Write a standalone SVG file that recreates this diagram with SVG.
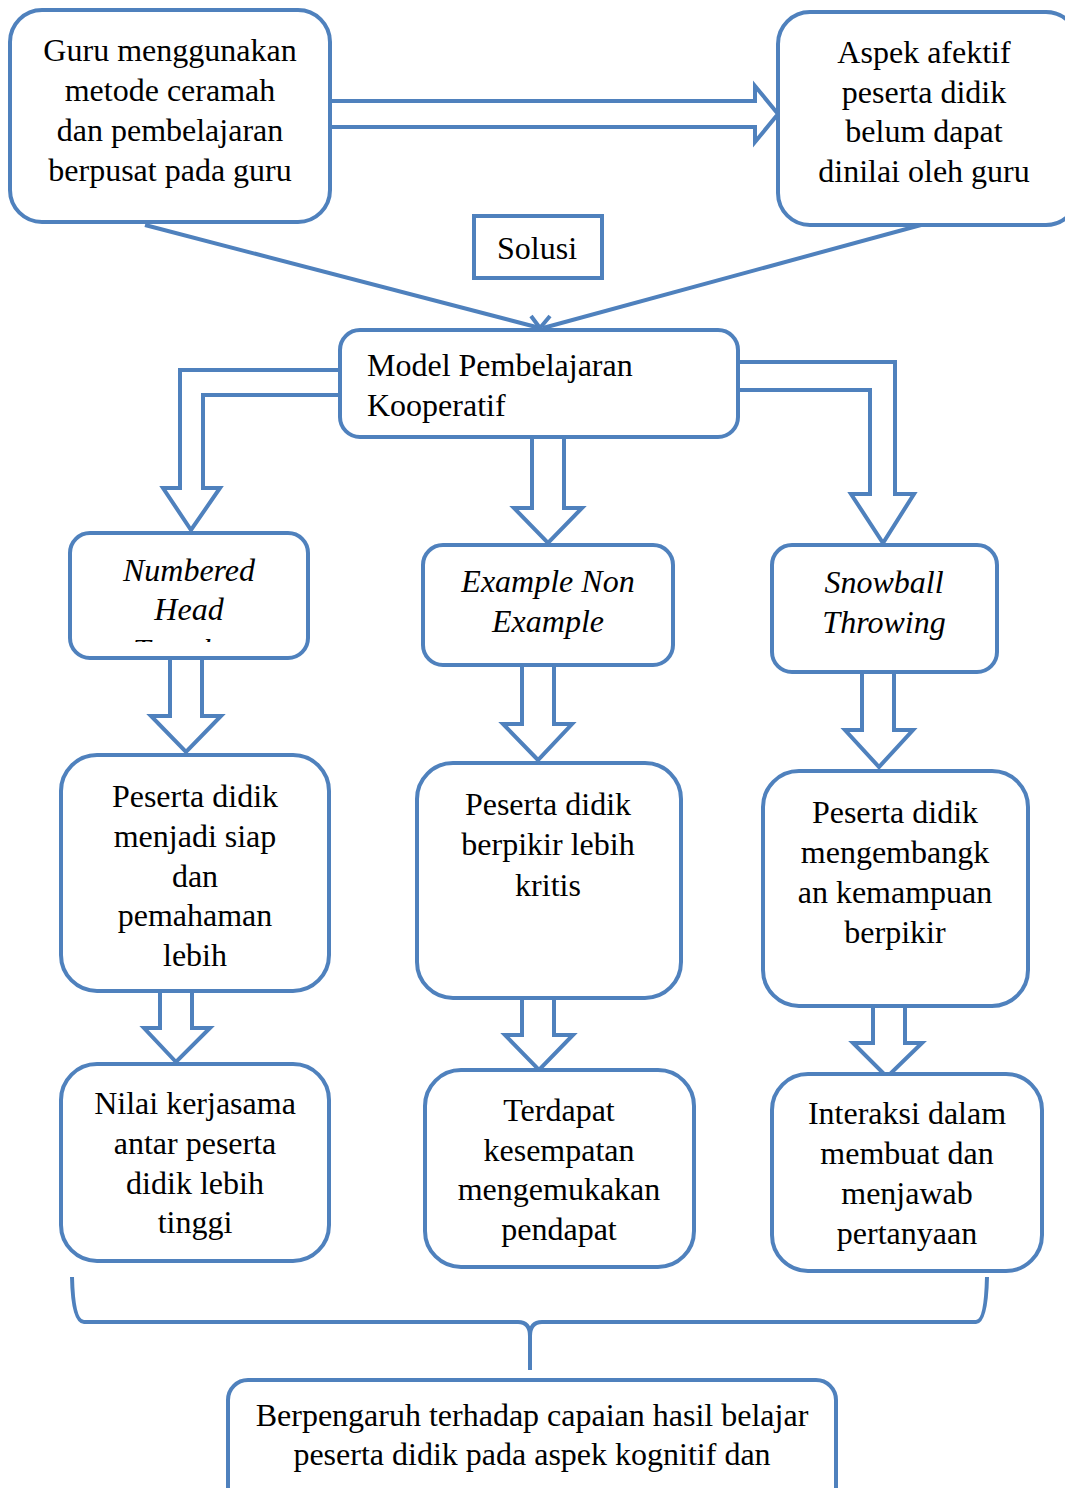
<svg xmlns="http://www.w3.org/2000/svg" width="1065" height="1488" viewBox="0 0 1065 1488">
<defs>
<style>
.box{fill:#fff;stroke:#4f81bd;stroke-width:4}
.ln{fill:none;stroke:#4f81bd;stroke-width:4;stroke-linejoin:miter}
.t{font-family:"Liberation Serif","Times New Roman",serif;font-size:32px;fill:#000;text-anchor:middle}
.l{text-anchor:start}
.i{font-style:italic}
</style>
<clipPath id="nhClip"><rect x="70" y="533" width="238" height="109"/></clipPath>
</defs>
<rect width="1065" height="1488" fill="#fff"/>

<g id="connectors">
  <path class="ln" d="M330,101 L755,101 L755,86 L778,114 L755,142 L755,127 L330,127"/>
  <path class="ln" d="M145,225 L540,328"/>
  <path class="ln" d="M932,222 L543,328"/>
  <path class="ln" d="M531,316 L540,328 L550,316"/>
  <path class="ln" d="M340,370 L180,370 L180,488 L163,488 L191,530 L220,488 L203,488 L203,395 L340,395"/>
  <path class="ln" d="M532,437 L532,508 L514,508 L548,543 L582,508 L564,508 L564,437"/>
  <path class="ln" d="M738,362 L895,362 L895,494 L914,494 L883,543 L851,494 L870,494 L870,390 L738,390"/>
  <path class="ln" d="M170,658 L170,716 L151,716 L186,752 L221,716 L202,716 L202,658"/>
  <path class="ln" d="M522,665 L522,724 L503,724 L538,760 L572,724 L554,724 L554,665"/>
  <path class="ln" d="M862,672 L862,730 L845,730 L879,767 L913,730 L894,730 L894,672"/>
  <path class="ln" d="M160,991 L160,1028 L144,1028 L176,1062 L210,1028 L192,1028 L192,991"/>
  <path class="ln" d="M522,998 L522,1035 L505,1035 L539,1070 L573,1035 L554,1035 L554,998"/>
  <path class="ln" d="M873,1006 L873,1043 L853,1043 L887,1077 L922,1043 L905,1043 L905,1006"/>
  <path class="ln" d="M72,1277 Q73,1322 84,1322 L518,1322 Q530,1322 530,1336 L530,1370"/>
  <path class="ln" d="M530,1336 Q530,1322 542,1322 L976,1322 Q986,1322 987,1277"/>
</g>

<g id="n-guru">
  <rect class="box" x="10" y="10" width="320" height="212" rx="32"/>
  <text class="t" x="170" y="61">Guru menggunakan</text>
  <text class="t" x="170" y="101">metode ceramah</text>
  <text class="t" x="170" y="141">dan pembelajaran</text>
  <text class="t" x="170" y="181">berpusat pada guru</text>
</g>

<g id="n-aspek">
  <rect class="box" x="778" y="12" width="300" height="213" rx="32"/>
  <text class="t" x="924" y="63">Aspek afektif</text>
  <text class="t" x="924" y="103">peserta didik</text>
  <text class="t" x="924" y="142">belum dapat</text>
  <text class="t" x="924" y="182">dinilai oleh guru</text>
</g>

<g id="n-solusi">
  <rect class="box" x="474" y="216" width="128" height="62"/>
  <text class="t" x="537" y="259">Solusi</text>
</g>

<g id="n-model">
  <rect class="box" x="340" y="330" width="398" height="107" rx="20"/>
  <text class="t l" x="367" y="376">Model Pembelajaran</text>
  <text class="t l" x="367" y="416">Kooperatif</text>
</g>

<g id="n-nht">
  <rect class="box" x="70" y="533" width="238" height="125" rx="20"/>
  <text class="t i" x="189" y="581">Numbered</text>
  <text class="t i" x="189" y="620">Head</text>
  <text class="t i" x="189" y="661" clip-path="url(#nhClip)">Together</text>
</g>

<g id="n-ene">
  <rect class="box" x="423" y="545" width="250" height="120" rx="20"/>
  <text class="t i" x="548" y="592">Example Non</text>
  <text class="t i" x="548" y="632">Example</text>
</g>

<g id="n-snow">
  <rect class="box" x="772" y="545" width="225" height="127" rx="20"/>
  <text class="t i" x="884" y="593">Snowball</text>
  <text class="t i" x="884" y="633">Throwing</text>
</g>

<g id="n-siap">
  <rect class="box" x="61" y="755" width="268" height="236" rx="36"/>
  <text class="t" x="195" y="807">Peserta didik</text>
  <text class="t" x="195" y="847">menjadi siap</text>
  <text class="t" x="195" y="887">dan</text>
  <text class="t" x="195" y="926">pemahaman</text>
  <text class="t" x="195" y="966">lebih</text>
</g>

<g id="n-kritis">
  <rect class="box" x="417" y="763" width="264" height="235" rx="36"/>
  <text class="t" x="548" y="815">Peserta didik</text>
  <text class="t" x="548" y="855">berpikir lebih</text>
  <text class="t" x="548" y="896">kritis</text>
</g>

<g id="n-kembang">
  <rect class="box" x="763" y="771" width="265" height="235" rx="36"/>
  <text class="t" x="895" y="823">Peserta didik</text>
  <text class="t" x="895" y="863">mengembangk</text>
  <text class="t" x="895" y="903">an kemampuan</text>
  <text class="t" x="895" y="943">berpikir</text>
</g>

<g id="n-kerjasama">
  <rect class="box" x="61" y="1064" width="268" height="197" rx="36"/>
  <text class="t" x="195" y="1114">Nilai kerjasama</text>
  <text class="t" x="195" y="1154">antar peserta</text>
  <text class="t" x="195" y="1194">didik lebih</text>
  <text class="t" x="195" y="1233">tinggi</text>
</g>

<g id="n-pendapat">
  <rect class="box" x="425" y="1070" width="269" height="197" rx="36"/>
  <text class="t" x="559" y="1121">Terdapat</text>
  <text class="t" x="559" y="1161">kesempatan</text>
  <text class="t" x="559" y="1200">mengemukakan</text>
  <text class="t" x="559" y="1240">pendapat</text>
</g>

<g id="n-interaksi">
  <rect class="box" x="772" y="1074" width="270" height="197" rx="36"/>
  <text class="t" x="907" y="1124">Interaksi dalam</text>
  <text class="t" x="907" y="1164">membuat dan</text>
  <text class="t" x="907" y="1204">menjawab</text>
  <text class="t" x="907" y="1244">pertanyaan</text>
</g>

<g id="n-hasil">
  <rect class="box" x="228" y="1380" width="608" height="130" rx="20"/>
  <text class="t" x="532" y="1426">Berpengaruh terhadap capaian hasil belajar</text>
  <text class="t" x="532" y="1465">peserta didik pada aspek kognitif dan</text>
</g>
</svg>
